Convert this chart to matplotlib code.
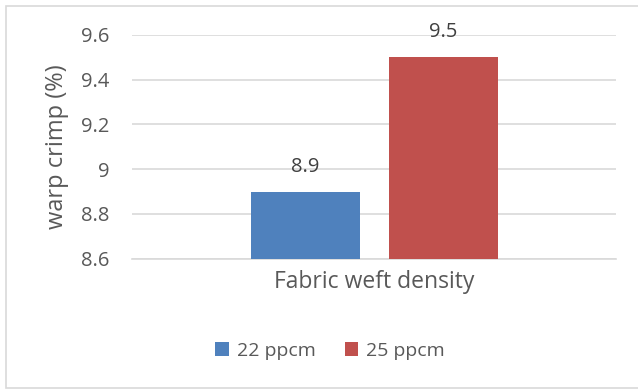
import matplotlib.pyplot as plt
from matplotlib.patches import Rectangle

categories = ['Fabric weft density']
series_names = ['22 ppcm', '25 ppcm']
series_values = [[8.9], [9.5]]
series_colors = ['#4F81BD', '#C0504D']
y_ticks = [8.6, 8.8, 9.0, 9.2, 9.4, 9.6]
y_tick_labels = ['8.6', '8.8', '9', '9.2', '9.4', '9.6']

plt.rcParams['font.family'] = 'Open Sans'
text_color = '#595959'
grid_color = '#D9D9D9'

W, H = 638, 390
fig = plt.figure(figsize=(W / 100, H / 100), dpi=100)

# outer chart frame
fig.patches.append(Rectangle((5.5 / W, 1 - 388 / H), (W - 5) / W, (388 - 5.5) / H,
                             transform=fig.transFigure, fill=False,
                             edgecolor=grid_color, linewidth=1.2))

# plot area in pixels
left, right, top, bottom = 132, 616, 35, 258.7
ax = fig.add_axes([left / W, 1 - bottom / H, (right - left) / W, (bottom - top) / H])

bar_w = 109 / 484
offsets = [-69 / 484, 69 / 484]
for name, vals, col, off in zip(series_names, series_values, series_colors, offsets):
    xs = [i + off for i in range(len(categories))]
    ax.bar(xs, [v - 8.6 for v in vals], bottom=8.6, width=bar_w,
           color=col, label=name, zorder=3)
    for x, v in zip(xs, vals):
        ax.annotate(f'{v:g}', (x, v), xytext=(0, 18), textcoords='offset points',
                    ha='center', va='center', fontsize=14.5, color='#404040')

ax.set_xlim(-0.5, len(categories) - 0.5)
ax.set_ylim(8.6, 9.6)
ax.set_yticks(y_ticks)
ax.set_yticklabels(y_tick_labels, fontsize=14.5, color=text_color)
ax.set_xticks(range(len(categories)))
ax.set_xticklabels(categories, fontsize=16.5, color=text_color)
ax.tick_params(axis='y', length=0, pad=16.5)
ax.tick_params(axis='x', length=0, pad=8)
ax.grid(axis='y', color=grid_color, linewidth=1.2, zorder=0)
for s in ['top', 'right', 'left']:
    ax.spines[s].set_visible(False)
ax.spines['bottom'].set_color(grid_color)
ax.spines['bottom'].set_linewidth(1.2)

fig.text(57 / W, 1 - 147 / H, 'warp crimp (%)', rotation=90, ha='center', va='center',
         fontsize=17, color=text_color)

fig.legend(loc='center', bbox_to_anchor=(330 / W, 1 - 351 / H), ncol=2, frameon=False,
           fontsize=14, handlelength=0.7, handleheight=0.7, handletextpad=0.4,
           columnspacing=1.5, labelcolor=text_color)

fig.savefig('out.png', dpi=100)
